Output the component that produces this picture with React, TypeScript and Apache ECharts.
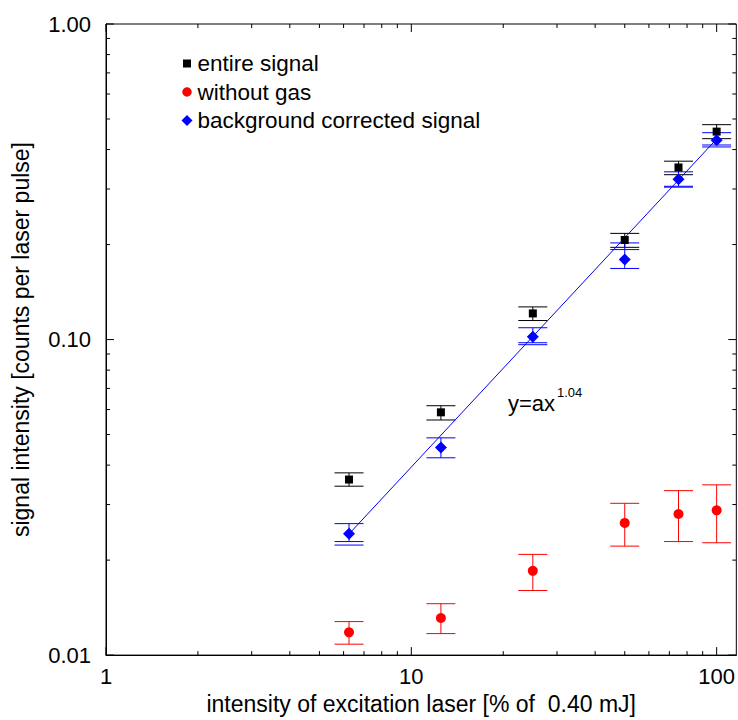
import React, { useEffect, useRef } from "react";
import * as echarts from "echarts";

// ---- data ----
const xPercent = [6.25, 12.5, 25, 50, 75, 100];

const entireSignal = [0.036, 0.0588, 0.121, 0.2068, 0.351, 0.456];
const entireLow = [0.0343, 0.0556, 0.1149, 0.196, 0.333, 0.4331];
const entireHigh = [0.0378, 0.0617, 0.1269, 0.217, 0.3675, 0.4797];

const withoutGas = [0.01181, 0.01311, 0.01849, 0.02624, 0.028, 0.02876];
const gasLow = [0.01083, 0.0117, 0.01602, 0.02215, 0.0229, 0.0227];
const gasHigh = [0.01277, 0.01455, 0.02085, 0.03027, 0.0332, 0.03464];

const corrected = [0.02422, 0.0455, 0.1021, 0.1793, 0.3219, 0.428];
const corrLow = [0.0229, 0.0422, 0.0977, 0.168, 0.306, 0.4136];
const corrHigh = [0.0261, 0.0488, 0.109, 0.2024, 0.34, 0.4524];
const corrExtraCap = [0.02232, null, 0.0963, 0.1928, 0.304, 0.4077];

const fitX = [6.25, 100];
const fitY = [0.0242, 0.432];

const xMajorTicks = [1, 10, 100];
const xTickLabels = ["1", "10", "100"];
const xMinorTicks = [2, 3, 4, 5, 6, 7, 8, 9, 20, 30, 40, 50, 60, 70, 80, 90];
const yMajorTicks = [0.01, 0.1, 1];
const yTickLabels = ["0.01", "0.10", "1.00"];
const yMinorTicks = [0.02, 0.03, 0.04, 0.05, 0.06, 0.07, 0.08, 0.09, 0.2, 0.3, 0.4, 0.5, 0.6, 0.7, 0.8, 0.9];

const legendNames = ["entire signal", "without gas", "background corrected signal"];
const xTitle = "intensity of excitation laser [% of  0.40 mJ]";
const yTitle = "signal intensity [counts per laser pulse]";

const FONT = "'Liberation Sans', Arial, sans-serif";

function matchLabel(v: number, vals: number[], labels: string[]) {
  for (let i = 0; i < vals.length; i++) {
    if (Math.abs(v - vals[i]) < vals[i] * 1e-6) return labels[i];
  }
  return "";
}

function errorSeries(name: string, color: string, lo: number[], hi: number[], extra?: (number | null)[]) {
  return {
    type: "custom",
    name,
    z: 3,
    silent: true,
    encode: { x: 0, y: [1, 2] },
    data: xPercent.map((x, i) => [x, lo[i], hi[i], extra && extra[i] != null ? extra[i] : "-"]),
    renderItem: (params: any, api: any) => {
      const x = api.value(0);
      const pl = api.coord([x, api.value(1)]);
      const ph = api.coord([x, api.value(2)]);
      const hw = 14.5;
      const style = { stroke: color, lineWidth: 1 };
      const children: any[] = [
        { type: "line", shape: { x1: pl[0], y1: pl[1], x2: ph[0], y2: ph[1] }, style },
        { type: "line", shape: { x1: pl[0] - hw, y1: pl[1], x2: pl[0] + hw, y2: pl[1] }, style },
        { type: "line", shape: { x1: ph[0] - hw, y1: ph[1], x2: ph[0] + hw, y2: ph[1] }, style },
      ];
      const ev = api.value(3);
      if (typeof ev === "number" && isFinite(ev) && ev > 0) {
        const pe = api.coord([x, ev]);
        children.push({ type: "line", shape: { x1: pe[0] - hw, y1: pe[1], x2: pe[0] + hw, y2: pe[1] }, style });
      }
      return { type: "group", children };
    },
  };
}

function tickSeries(axis: "x" | "y") {
  const data: any[] = [];
  if (axis === "x") {
    xMajorTicks.forEach((v) => data.push([v, 0.5, 1]));
    xMinorTicks.forEach((v) => data.push([v, 0.5, 0]));
  } else {
    yMajorTicks.forEach((v) => data.push([2, v, 1]));
    yMinorTicks.forEach((v) => data.push([2, v, 0]));
  }
  return {
    type: "custom",
    name: "ticks-" + axis,
    silent: true,
    z: 1,
    encode: { x: 0, y: 1 },
    data,
    renderItem: (params: any, api: any) => {
      const cs = params.coordSys;
      const major = api.value(2) === 1;
      const len = major ? 8 : 4;
      const style = { stroke: "#000", lineWidth: 1 };
      const p = api.coord([api.value(0), api.value(1)]);
      if (axis === "x") {
        const yb = cs.y + cs.height;
        const yt = cs.y;
        return {
          type: "group",
          children: [
            { type: "line", shape: { x1: p[0], y1: yb, x2: p[0], y2: yb - len }, style },
            { type: "line", shape: { x1: p[0], y1: yt, x2: p[0], y2: yt + len }, style },
          ],
        };
      }
      const xl = cs.x;
      const xr = cs.x + cs.width;
      return {
        type: "group",
        children: [
          { type: "line", shape: { x1: xl, y1: p[1], x2: xl + len, y2: p[1] }, style },
          { type: "line", shape: { x1: xr, y1: p[1], x2: xr - len, y2: p[1] }, style },
        ],
      };
    },
  };
}

export default function App() {
  const ref = useRef<HTMLDivElement>(null);
  useEffect(() => {
    if (!ref.current) return;
    const chart = echarts.init(ref.current, undefined, { renderer: "svg" });
    chart.setOption({
      animation: false,
      backgroundColor: "#fff",
      textStyle: { fontFamily: FONT },
      grid: {
        left: 106,
        top: 24,
        width: 632,
        height: 635,
        show: true,
        borderColor: "#000",
        borderWidth: 1,
        backgroundColor: "transparent",
        containLabel: false,
      },
      legend: {
        orient: "vertical",
        left: 181.5,
        top: 52,
        padding: 0,
        itemWidth: 11,
        itemHeight: 11,
        itemGap: 5.5,
        selectedMode: false,
        textStyle: { fontSize: 22.5, color: "#000", fontFamily: FONT },
        data: [
          { name: legendNames[0], icon: "path://M0,0M11,11M1.5,1.5L9.5,1.5L9.5,9.5L1.5,9.5Z" },
          { name: legendNames[1], icon: "path://M0,0M11,11M0.75,5.5A4.75,4.75,0,1,1,10.25,5.5A4.75,4.75,0,1,1,0.75,5.5Z" },
          { name: legendNames[2], icon: "diamond" },
        ],
      },
      xAxis: {
        type: "log",
        logBase: 10,
        min: 1,
        max: 116,
        name: xTitle,
        nameLocation: "middle",
        nameGap: 36,
        nameTextStyle: { fontSize: 23, color: "#000", fontFamily: FONT },
        axisLine: { show: true, lineStyle: { color: "#000", width: 1 } },
        axisTick: { show: false },
        splitLine: { show: false },
        minorTick: { show: false },
        axisLabel: {
          fontSize: 22,
          color: "#000",
          margin: 10,
          fontFamily: FONT,
          showMaxLabel: false,
          formatter: (v: number) => matchLabel(v, xMajorTicks, xTickLabels),
        },
      },
      yAxis: {
        type: "log",
        logBase: 10,
        min: 0.01,
        max: 1,
        name: yTitle,
        nameLocation: "middle",
        nameGap: 74,
        nameRotate: 90,
        nameTextStyle: { fontSize: 23, color: "#000", fontFamily: FONT },
        axisLine: { show: true, lineStyle: { color: "#000", width: 1 } },
        axisTick: { show: false },
        splitLine: { show: false },
        axisLabel: {
          fontSize: 22,
          color: "#000",
          margin: 15,
          fontFamily: FONT,
          formatter: (v: number) => matchLabel(v, yMajorTicks, yTickLabels),
        },
      },
      graphic: [
        {
          type: "text",
          x: 508,
          y: 403,
          style: { text: "y=ax", font: `22px ${FONT}`, fill: "#000", verticalAlign: "middle", align: "left" },
        },
        {
          type: "text",
          x: 557,
          y: 392,
          style: { text: "1.04", font: `13px ${FONT}`, fill: "#000", verticalAlign: "middle", align: "left" },
        },
      ],
      series: [
        tickSeries("x"),
        tickSeries("y"),
        {
          type: "line",
          name: "fit",
          data: fitX.map((x, i) => [x, fitY[i]]),
          symbol: "none",
          lineStyle: { color: "#0000ff", width: 1 },
          z: 4,
          silent: true,
        },
        errorSeries("err-entire", "#000", entireLow, entireHigh),
        errorSeries("err-gas", "#ff0000", gasLow, gasHigh),
        errorSeries("err-corr", "#0000ff", corrLow, corrHigh, corrExtraCap),
        {
          type: "scatter",
          name: legendNames[0],
          symbol: "rect",
          symbolSize: 8,
          itemStyle: { color: "#000", opacity: 1 },
          data: xPercent.map((x, i) => [x, entireSignal[i]]),
          z: 5,
        },
        {
          type: "scatter",
          name: legendNames[1],
          symbol: "circle",
          symbolSize: 10,
          itemStyle: { color: "#ff0000", opacity: 1 },
          data: xPercent.map((x, i) => [x, withoutGas[i]]),
          z: 5,
        },
        {
          type: "scatter",
          name: legendNames[2],
          symbol: "diamond",
          symbolSize: 12,
          itemStyle: { color: "#0000ff", opacity: 1 },
          data: xPercent.map((x, i) => [x, corrected[i]]),
          z: 5,
        },
      ],
    });
    return () => chart.dispose();
  }, []);
  return (
    <div
      ref={ref}
      style={{ position: "fixed", left: 0, top: 0, width: 738, height: 720, background: "#fff" }}
    />
  );
}
